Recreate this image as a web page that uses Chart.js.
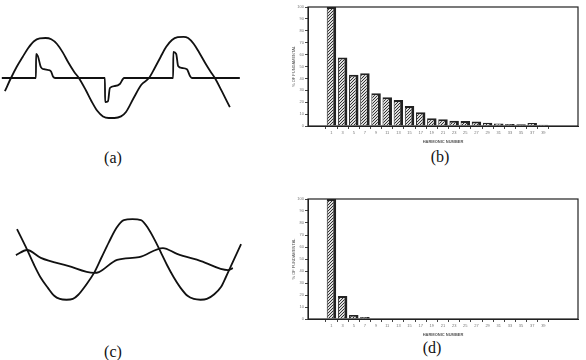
<!DOCTYPE html>
<html>
<head>
<meta charset="utf-8">
<script src="https://cdn.jsdelivr.net/npm/chart.js@4.4.1/dist/chart.umd.min.js"></script>
<style>
body { margin: 0; background: #fff; width: 586px; height: 360px; overflow: hidden; position: relative; }
canvas { position: absolute; }
.cap { position: absolute; font-family: "Liberation Serif", "DejaVu Serif", serif; font-size: 16px; color: #111; transform: translate(-50%, -50%); }
</style>
</head>
<body>
<canvas id="waveA" width="245" height="95" style="left:0;top:30px"></canvas>
<canvas id="specB" width="290" height="146" style="left:290px;top:0"></canvas>
<canvas id="waveC" width="250" height="95" style="left:0;top:215px"></canvas>
<canvas id="specD" width="290" height="147" style="left:290px;top:192px"></canvas>
<div class="cap" style="left:113px;top:158px">(a)</div>
<div class="cap" style="left:440px;top:157px">(b)</div>
<div class="cap" style="left:113px;top:352px">(c)</div>
<div class="cap" style="left:432px;top:348px">(d)</div>
<script>
// waveforms: [phase in degrees, per-unit amplitude]
const voltageA = [[-16,-0.33],[0,0],[15,0.28],[30,0.52],[45,0.75],[60,0.92],[75,0.99],[90,1.0],[105,0.97],[120,0.85],[135,0.64],[150,0.38],[165,0.15],[177,0],[195,-0.3],[210,-0.58],[225,-0.82],[240,-0.96],[255,-1.0],[270,-1.0],[287,-0.96],[300,-0.85],[320,-0.5],[340,-0.17],[360,0],[375,0.25],[390,0.52],[405,0.78],[420,0.95],[435,1.02],[450,1.03],[462,1.0],[477,0.85],[492,0.62],[507,0.37],[520,0.17],[532,0],[550,-0.33],[571,-0.73]];
const currentA = [[-24,0],[65,0],[65.5,0.6],[70,0.55],[78,0.27],[86,0.22],[97,0.2],[104,0.17],[110,0.03],[115,0],[245,0],[245.5,-0.6],[253,-0.58],[258,-0.25],[271,-0.2],[284,-0.15],[295,0],[423,0],[423.5,0.65],[431,0.6],[436,0.3],[446,0.25],[459,0.22],[467,0.05],[472,0],[597,0]];
const voltageC = [[137,0.77],[160,0.33],[183,-0.14],[200,-0.45],[220,-0.72],[237,-0.92],[252,-1.0],[270,-1.02],[287,-1.0],[301,-0.9],[322,-0.65],[344,-0.34],[364,0.05],[384,0.44],[404,0.8],[424,1.0],[447,1.02],[470,1.0],[490,0.78],[510,0.44],[525,0.15],[540,-0.14],[558,-0.45],[575,-0.7],[595,-0.92],[612,-1.0],[630,-1.02],[647,-1.0],[667,-0.88],[685,-0.7],[698,-0.45],[712,-0.16],[739,0.39]];
const currentC = [[134,0.11],[164,0.24],[201,0.04],[274,-0.16],[344,-0.34],[357,-0.32],[406,-0.01],[465,0.06],[529,0.29],[567,0.14],[631,-0.04],[704,-0.27],[717,-0.22]];

// harmonic spectra, % of fundamental
const harmonics = [1,3,5,7,9,11,13,15,17,19,21,23,25,27,29,31,33,35,37,39];
const spectrumB = [100,57.6,43,44.4,27.5,24.2,21.9,16.9,11.5,6.5,5.6,4.5,4.2,3.7,2.8,2.2,1.7,1.4,2.5,1.1];
const spectrumD = [100,19.2,3.4,1.7,0,0,0,0,0,0,0,0,0,0,0,0,0,0,0,0];
const percentTicks = [0,10,20,30,40,50,60,70,80,90,100];

const toXY = arr => arr.map(p => ({ x: p[0], y: p[1] }));

function waveChart(id, volt, curr, xMin, xMax, yMin, yMax) {
    new Chart(document.getElementById(id), {
        type: 'line',
        data: {
            datasets: [
                { data: toXY(volt), borderColor: '#111', borderWidth: 1.8, cubicInterpolationMode: 'monotone', pointRadius: 0 },
                { data: toXY(curr), borderColor: '#111', borderWidth: 1.8, cubicInterpolationMode: 'monotone', pointRadius: 0 },
            ],
        },
        options: {
            responsive: false,
            animation: false,
            devicePixelRatio: 1,
            layout: { padding: 0 },
            plugins: { legend: { display: false }, tooltip: { enabled: false } },
            scales: {
                x: { type: 'linear', min: xMin, max: xMax, display: false },
                y: { min: yMin, max: yMax, display: false },
            },
        },
    });
}

waveChart('waveA', voltageA, currentA, -28.7, 610.5, -1.175, 1.2);
waveChart('waveC', voltageC, currentC, 91.3, 763, -1.28, 1.127);

// hatched fill for the bars
function hatch() {
    const c = document.createElement('canvas');
    c.width = 3; c.height = 3;
    const g = c.getContext('2d');
    g.fillStyle = '#dcdcdc';
    g.fillRect(0, 0, 3, 3);
    g.strokeStyle = '#333';
    g.lineWidth = 1;
    g.beginPath();
    g.moveTo(0, 3); g.lineTo(3, 0);
    g.moveTo(-1, 1); g.lineTo(1, -1);
    g.moveTo(2, 4); g.lineTo(4, 2);
    g.stroke();
    return g.createPattern(c, 'repeat');
}

const frame = {
    id: 'frame',
    afterDraw(chart) {
        const a = chart.chartArea, ctx = chart.ctx;
        ctx.save();
        ctx.strokeStyle = '#222';
        ctx.lineWidth = 1.2;
        ctx.strokeRect(a.left, a.top, a.right - a.left, a.bottom - a.top);
        ctx.restore();
    },
};

function spectrumChart(id, values) {
    new Chart(document.getElementById(id), {
        type: 'bar',
        data: {
            datasets: [{
                data: harmonics.map((h, i) => ({ x: h, y: values[i] })),
                backgroundColor: hatch(),
                borderColor: '#222',
                borderWidth: { top: 2, right: 3, left: 1, bottom: 0 },
                barPercentage: 0.85,
                categoryPercentage: 1,
            }],
        },
        options: {
            responsive: false,
            animation: false,
            devicePixelRatio: 1,
            layout: { padding: { top: 7, right: 2, left: 0, bottom: 0 } },
            plugins: { legend: { display: false }, tooltip: { enabled: false } },
            scales: {
                x: {
                    type: 'linear', min: -2, max: 44,
                    afterBuildTicks: s => { s.ticks = harmonics.map(v => ({ value: v })); },
                    afterFit: s => { s.height = 20; },
                    grid: { drawOnChartArea: false, tickLength: 3, color: '#444' },
                    border: { color: '#222' },
                    ticks: { autoSkip: false, maxRotation: 0, padding: 1, color: '#777', font: { size: 4 } },
                    title: { display: true, text: 'HARMONIC NUMBER', color: '#555', font: { size: 4, weight: 'bold' }, padding: { top: 2, bottom: 2 } },
                },
                y: {
                    min: 0, max: 100,
                    afterBuildTicks: s => { s.ticks = percentTicks.map(v => ({ value: v })); },
                    afterFit: s => { s.width = 18; },
                    grid: { drawOnChartArea: false, tickLength: 3, color: '#444' },
                    border: { color: '#222' },
                    ticks: { padding: 1, color: '#777', font: { size: 4 } },
                    title: { display: true, text: '% OF FUNDAMENTAL', color: '#555', font: { size: 4 }, padding: 1 },
                },
            },
        },
        plugins: [frame],
    });
}

spectrumChart('specB', spectrumB);
spectrumChart('specD', spectrumD);
</script>
</body>
</html>
